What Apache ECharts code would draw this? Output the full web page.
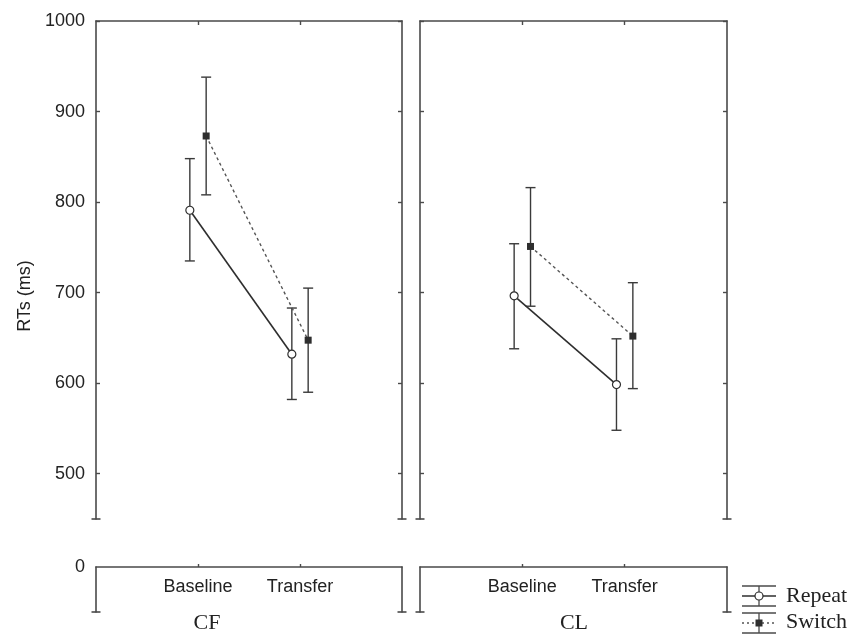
<!DOCTYPE html>
<html><head><meta charset="utf-8">
<script src="https://cdn.jsdelivr.net/npm/echarts@6/dist/echarts.min.js"></script>
<style>html,body{margin:0;padding:0;background:#fff}#c{width:860px;height:636px}</style>
</head><body><div id="c"></div>
<script>
// ---- data ----
const categories = ['Baseline', 'Transfer'];
const panelNames = ['CF', 'CL'];
const yTicks = [500, 600, 700, 800, 900, 1000];
const seriesNames = ['Repeat', 'Switch'];

const cfRepeatMean = [791, 632];
const cfRepeatLow  = [735, 582];
const cfRepeatHigh = [848, 683];
const cfSwitchMean = [873, 647.5];
const cfSwitchLow  = [808, 590];
const cfSwitchHigh = [938, 705];

const clRepeatMean = [696.5, 598.5];
const clRepeatLow  = [638, 548];
const clRepeatHigh = [754, 649];
const clSwitchMean = [751, 652];
const clSwitchLow  = [685, 594];
const clSwitchHigh = [816, 711];

// ---- layout / style ----
const FONT = '"Liberation Sans", Arial, sans-serif';
const SERIF = '"Liberation Serif", "Times New Roman", serif';
const FRAME = '#4a4a4a';
const INK = '#2e2e2e';
const dodge = 0.08;
const yMin = 450, yMax = 1000;
const xMin = -1, xMax = 2;

const upperGrids = [
  {left: 96, top: 21, width: 306, height: 498},
  {left: 420, top: 21, width: 307, height: 498}
];
const lowerGrids = [
  {left: 96, top: 567, width: 306, height: 45},
  {left: 420, top: 567, width: 307, height: 45}
];
const grids = upperGrids.concat(lowerGrids);

const panels = [
  {repeat: [cfRepeatMean, cfRepeatLow, cfRepeatHigh], sw: [cfSwitchMean, cfSwitchLow, cfSwitchHigh]},
  {repeat: [clRepeatMean, clRepeatLow, clRepeatHigh], sw: [clSwitchMean, clSwitchLow, clSwitchHigh]}
];

const frameLine = {show: true, onZero: false, lineStyle: {color: FRAME, width: 1.6}};
const labelStyle = {fontSize: 18, color: '#222', fontFamily: FONT};
const xAxes = [];
const yAxes = [];
for (let g = 0; g < 4; g++) {
  const upper = g < 2;
  xAxes.push({
    type: 'value', gridIndex: g, min: xMin, max: xMax, interval: 1,
    position: 'top',
    axisLine: frameLine,
    splitLine: {show: false},
    axisTick: {show: true, inside: upper, length: upper ? 4 : 3, customValues: [0, 1], lineStyle: {color: FRAME, width: 1.4}},
    axisLabel: upper ? {show: false} : Object.assign({
      show: true, inside: true, customValues: [0, 1], margin: 11,
      formatter: v => categories[Math.round(v)] || ''
    }, labelStyle)
  });
  yAxes.push({
    type: 'value', gridIndex: g, position: 'left',
    min: upper ? yMin : -1, max: upper ? yMax : 0,
    axisLine: frameLine, splitLine: {show: false},
    axisTick: upper ? {show: true, inside: true, length: 4, customValues: yTicks, lineStyle: {color: FRAME, width: 1.4}} : {show: false},
    axisLabel: (g === 0) ? Object.assign({show: true, customValues: yTicks, margin: 11, formatter: v => String(v)}, labelStyle)
      : (g === 2) ? Object.assign({show: true, customValues: [0], margin: 11, formatter: v => String(v)}, labelStyle)
      : {show: false}
  });
  yAxes.push({
    type: 'value', gridIndex: g, position: 'right',
    min: upper ? yMin : -1, max: upper ? yMax : 0,
    axisLine: frameLine, splitLine: {show: false},
    axisTick: upper ? {show: true, inside: true, length: 4, customValues: yTicks, lineStyle: {color: FRAME, width: 1.4}} : {show: false},
    axisLabel: {show: false}
  });
}

function errorBars(g, xs, lows, highs) {
  return {
    type: 'custom', xAxisIndex: g, yAxisIndex: 2 * g, z: 1, silent: true,
    data: xs.map((x, i) => [x, lows[i], highs[i]]),
    encode: {x: 0, y: [1, 2]},
    renderItem: (params, api) => {
      const x = api.value(0);
      const lo = api.coord([x, api.value(1)]);
      const hi = api.coord([x, api.value(2)]);
      const w = 5;
      const st = {stroke: '#3a3a3a', lineWidth: 1.4};
      return {type: 'group', children: [
        {type: 'line', shape: {x1: lo[0], y1: lo[1], x2: hi[0], y2: hi[1]}, style: st},
        {type: 'line', shape: {x1: lo[0] - w, y1: lo[1], x2: lo[0] + w, y2: lo[1]}, style: st},
        {type: 'line', shape: {x1: hi[0] - w, y1: hi[1], x2: hi[0] + w, y2: hi[1]}, style: st}
      ]};
    }
  };
}

function frameCaps(g, yVal) {
  return {
    type: 'custom', xAxisIndex: g, yAxisIndex: 2 * g, silent: true, clip: false,
    data: [[xMin, yVal], [xMax, yVal]],
    renderItem: (params, api) => {
      const p = api.coord([api.value(0), api.value(1)]);
      return {type: 'line', shape: {x1: p[0] - 4.5, y1: p[1], x2: p[0] + 4.5, y2: p[1]}, style: {stroke: FRAME, lineWidth: 1.6}};
    }
  };
}

const series = [];
panels.forEach((p, g) => {
  const xr = categories.map((c, i) => i - dodge);
  const xs = categories.map((c, i) => i + dodge);
  series.push(errorBars(g, xr, p.repeat[1], p.repeat[2]));
  series.push(errorBars(g, xs, p.sw[1], p.sw[2]));
  series.push({
    type: 'line', name: seriesNames[0], xAxisIndex: g, yAxisIndex: 2 * g, z: 3,
    data: xr.map((x, i) => [x, p.repeat[0][i]]),
    symbol: 'circle', symbolSize: 8,
    itemStyle: {color: '#fff', borderColor: INK, borderWidth: 1.2},
    lineStyle: {color: INK, width: 1.6}
  });
  series.push({
    type: 'line', name: seriesNames[1], xAxisIndex: g, yAxisIndex: 2 * g, z: 3,
    data: xs.map((x, i) => [x, p.sw[0][i]]),
    symbol: 'rect', symbolSize: 7,
    itemStyle: {color: INK},
    lineStyle: {color: '#555', width: 1.4, type: [3, 3]}
  });
});
[0, 1].forEach(g => series.push(frameCaps(g, yMin)));
[2, 3].forEach(g => series.push(frameCaps(g, -1)));

const legendLine = {stroke: FRAME, lineWidth: 1.3};
const graphic = [
  {type: 'text', x: 25, y: 296, rotation: Math.PI / 2,
   style: {text: 'RTs (ms)', font: '18px ' + FONT, fill: '#222', align: 'center', verticalAlign: 'middle'}},
  {type: 'text', x: 207, y: 623, style: {text: panelNames[0], font: '22px ' + SERIF, fill: '#222', align: 'center', verticalAlign: 'middle'}},
  {type: 'text', x: 574, y: 623, style: {text: panelNames[1], font: '22px ' + SERIF, fill: '#222', align: 'center', verticalAlign: 'middle'}},
  // legend: Repeat
  {type: 'line', shape: {x1: 742, y1: 586, x2: 776, y2: 586}, style: legendLine},
  {type: 'line', shape: {x1: 742, y1: 596, x2: 776, y2: 596}, style: {stroke: INK, lineWidth: 1.3}},
  {type: 'line', shape: {x1: 742, y1: 606, x2: 776, y2: 606}, style: legendLine},
  {type: 'line', shape: {x1: 759, y1: 586, x2: 759, y2: 606}, style: legendLine},
  {type: 'circle', shape: {cx: 759, cy: 596, r: 4}, style: {fill: '#fff', stroke: INK, lineWidth: 1.2}},
  {type: 'text', x: 786, y: 596, style: {text: seriesNames[0], font: '22px ' + SERIF, fill: '#222', verticalAlign: 'middle'}},
  // legend: Switch
  {type: 'line', shape: {x1: 742, y1: 613, x2: 776, y2: 613}, style: legendLine},
  {type: 'line', shape: {x1: 742, y1: 623, x2: 776, y2: 623}, style: {stroke: '#555', lineWidth: 1.3, lineDash: [2, 3]}},
  {type: 'line', shape: {x1: 742, y1: 633, x2: 776, y2: 633}, style: legendLine},
  {type: 'line', shape: {x1: 759, y1: 613, x2: 759, y2: 633}, style: legendLine},
  {type: 'rect', shape: {x: 755.5, y: 619.5, width: 7, height: 7}, style: {fill: INK}},
  {type: 'text', x: 786, y: 622, style: {text: seriesNames[1], font: '22px ' + SERIF, fill: '#222', verticalAlign: 'middle'}}
];

const chart = echarts.init(document.getElementById('c'), null, {renderer: 'canvas'});
chart.setOption({
  animation: false,
  backgroundColor: '#fff',
  textStyle: {fontFamily: FONT},
  grid: grids.map(gr => Object.assign({containLabel: false}, gr)),
  xAxis: xAxes,
  yAxis: yAxes,
  series: series,
  graphic: graphic
});
</script>
</body></html>
